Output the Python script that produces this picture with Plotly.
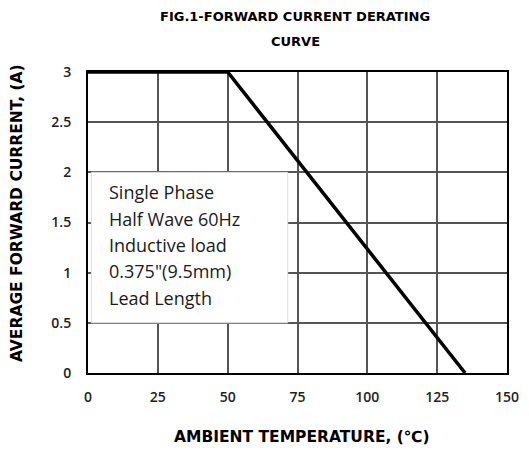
import plotly.graph_objects as go

# derating curve
temp_c = [0, 50, 135]
current_a = [3, 3, 0]

x_ticks = [0, 25, 50, 75, 100, 125, 150]
y_ticks = [0, 0.5, 1, 1.5, 2, 2.5, 3]
y_tick_text = ["0", "0.5", "1", "1.5", "2", "2.5", "3"]

title_lines = ["FIG.1-FORWARD CURRENT DERATING", "CURVE"]
note_lines = ["Single Phase", "Half Wave 60Hz", "Inductive load",
              "0.375\"(9.5mm)", "Lead Length"]

fig = go.Figure()
fig.add_trace(go.Scatter(
    x=temp_c, y=current_a, mode="lines",
    line=dict(color="black", width=3.5), showlegend=False, hoverinfo="skip"))

# white note box covering the grid
fig.add_shape(type="rect", xref="x", yref="y", x0=1.2, x1=71.5, y0=0.5, y1=2.0,
              fillcolor="white", line=dict(color="#dddddd", width=1), layer="between")
for i, line in enumerate(note_lines):
    fig.add_annotation(
        xref="x", yref="y", x=6.8, y=1.8 - i * 0.262, xanchor="left",
        yanchor="middle", text=line, showarrow=False, align="left",
        font=dict(family="Open Sans", size=18, color="#1a1a1a"))

# two-line heading, spaced like the original
for i, line in enumerate(title_lines):
    fig.add_annotation(
        xref="paper", yref="paper", x=0.495, y=1.183 - i * 0.083,
        text=line, showarrow=False, xanchor="center", yanchor="middle",
        font=dict(family="DejaVu Sans", size=13, color="black", weight="bold"))

head_font = dict(family="DejaVu Sans", size=15.5, color="black", weight="bold")
fig.add_annotation(xref="paper", yref="paper", x=0.51, y=-0.213,
                   text="AMBIENT TEMPERATURE, (℃)", showarrow=False,
                   xanchor="center", yanchor="middle", font=head_font)
fig.add_annotation(xref="paper", yref="paper", x=-0.168, y=0.53,
                   text="AVERAGE FORWARD CURRENT, (A)", showarrow=False,
                   textangle=-90, xanchor="center", yanchor="middle",
                   font=head_font)

tick_font = dict(family="Open Sans", size=14, color="#222", weight=600)
fig.update_xaxes(
    range=[0, 150], tickvals=x_ticks, ticks="", showgrid=True,
    gridcolor="#555", gridwidth=1.5, showline=True, linecolor="black",
    linewidth=2, mirror=True, zeroline=False, tickfont=tick_font,
    ticklabelstandoff=10, ticklabeloverflow="allow", automargin=False)
fig.update_yaxes(
    range=[0, 3], tickvals=y_ticks, ticktext=y_tick_text, ticks="",
    showgrid=True, gridcolor="#555", gridwidth=1.5, showline=True,
    linecolor="black", linewidth=2, mirror=True, zeroline=False,
    tickfont=tick_font, ticklabelstandoff=12, automargin=False)

# page body adds an 8px offset, so the figure is shrunk to fit the window;
# right margin leaves room for the "150" label
fig.update_layout(
    width=521, height=438,
    margin=dict(l=80, r=22, t=64, b=73),
    paper_bgcolor="white", plot_bgcolor="white",
)

fig.write_html("out.html")
